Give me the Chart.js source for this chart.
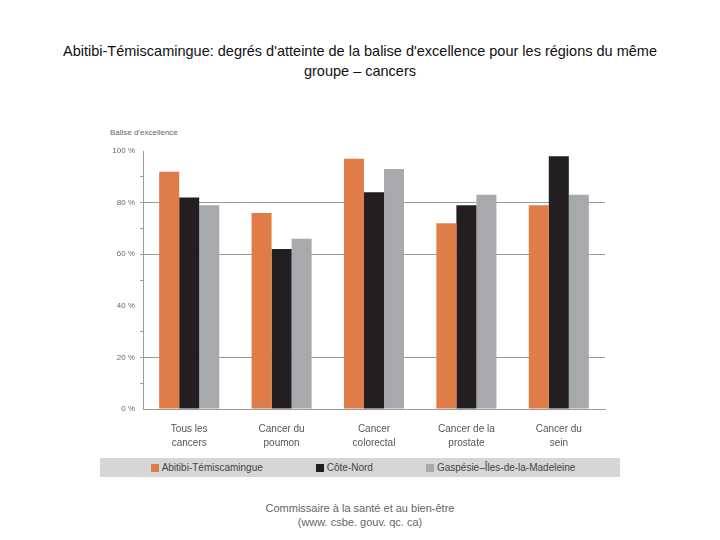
<!DOCTYPE html>
<html>
<head>
<meta charset="utf-8">
<script src="https://cdn.jsdelivr.net/npm/chart.js@4"></script>
<style>
  html, body { margin:0; padding:0; background:#fff; }
  body { width:720px; height:540px; position:relative; overflow:hidden; font-family:"Liberation Sans", Arial, sans-serif; }
  #title { position:absolute; left:0; top:41px; width:720px; text-align:center; font-size:14.5px; line-height:20px; color:#111; }
  #ytitle { position:absolute; left:110px; top:128px; font-size:8px; color:#666; }
  #wrap { position:absolute; left:100px; top:125px; width:520px; height:333px; }
  #legend { position:absolute; left:100px; top:458px; width:520px; height:19px; background:#d6d6d6;
            display:flex; justify-content:center; align-items:center; gap:53px; font-size:10px; color:#444; padding-left:6px; box-sizing:border-box; }
  #legend .it { display:flex; align-items:center; }
  #legend .bx { width:8px; height:8px; margin-right:3px; }
  #footer { position:absolute; left:0; top:501px; width:720px; text-align:center; font-size:11px; line-height:14px; color:#666; }
</style>
</head>
<body>
<div id="title">Abitibi-Témiscamingue: degrés d'atteinte de la balise d'excellence pour les régions du même<br>groupe – cancers</div>
<div id="ytitle">Balise d'excellence</div>
<div id="wrap"><canvas id="c" width="520" height="333"></canvas></div>
<div id="legend"></div>
<div id="footer">Commissaire à la santé et au bien-être<br>(www. csbe. gouv. qc. ca)</div>
<script>
const categories = [["Tous les","cancers"],["Cancer du","poumon"],["Cancer","colorectal"],["Cancer de la","prostate"],["Cancer du","sein"]];
const seriesNames = ["Abitibi-Témiscamingue","Côte-Nord","Gaspésie–Îles-de-la-Madeleine"];
const abitibi = [92, 76, 97, 72, 79];
const coteNord = [82, 62, 84, 79, 98];
const gaspesie = [79, 66, 93, 83, 83];
const colors = ["#e07c48","#231f20","#a7a9ac"];
const yTicks = [0, 20, 40, 60, 80, 100];

const series = [abitibi, coteNord, gaspesie];
const datasets = series.map((d,i)=>({
  label: seriesNames[i], data: d, backgroundColor: colors[i], borderWidth:0,
  barPercentage: 1.0, categoryPercentage: 0.65
}));

// HTML legend from data
const lg = document.getElementById('legend');
seriesNames.forEach((n,i)=>{
  const it = document.createElement('div'); it.className='it';
  const b = document.createElement('span'); b.className='bx'; b.style.background=colors[i];
  const t = document.createElement('span'); t.textContent = n;
  it.appendChild(b); it.appendChild(t); lg.appendChild(it);
});

new Chart(document.getElementById('c'), {
  type:'bar',
  data:{ labels: categories, datasets },
  options:{
    responsive:false, animation:false, devicePixelRatio:1,
    layout:{ padding:{ top:26, right:15, left:0, bottom:0 } },
    plugins:{ legend:{display:false}, tooltip:{enabled:false}, title:{display:false} },
    scales:{
      x:{
        grid:{ display:false, drawTicks:false },
        border:{ display:true, color:'#9a9a9a', width:1 },
        ticks:{ color:'#555', font:{ family:'"Liberation Sans", Arial, sans-serif', size:10, lineHeight:1.4 }, padding:13, maxRotation:0, autoSkip:false },
        afterFit(s){ s.height = 49; }
      },
      y:{
        min:0, max:100,
        grid:{
          drawTicks:true, tickLength:3, lineWidth:1,
          color:(ctx)=>{ const v = ctx.tick ? ctx.tick.value : null; return (v===20||v===60||v===80) ? '#9a9a9a' : 'rgba(0,0,0,0)'; },
          tickColor:(ctx)=>{ const v = ctx.tick ? ctx.tick.value : null; return (v===0||v===100||v===40) ? 'rgba(0,0,0,0)' : '#9a9a9a'; }
        },
        border:{ display:true, color:'#9a9a9a', width:1 },
        ticks:{
          stepSize:10, autoSkip:false, padding:5, color:'#666',
          font:{ family:'"Liberation Sans", Arial, sans-serif', size:8 },
          callback:(v)=> yTicks.includes(v) ? v + ' %' : ''
        },
        afterFit(s){ s.width = 43; }
      }
    }
  }
});
</script>
</body>
</html>
